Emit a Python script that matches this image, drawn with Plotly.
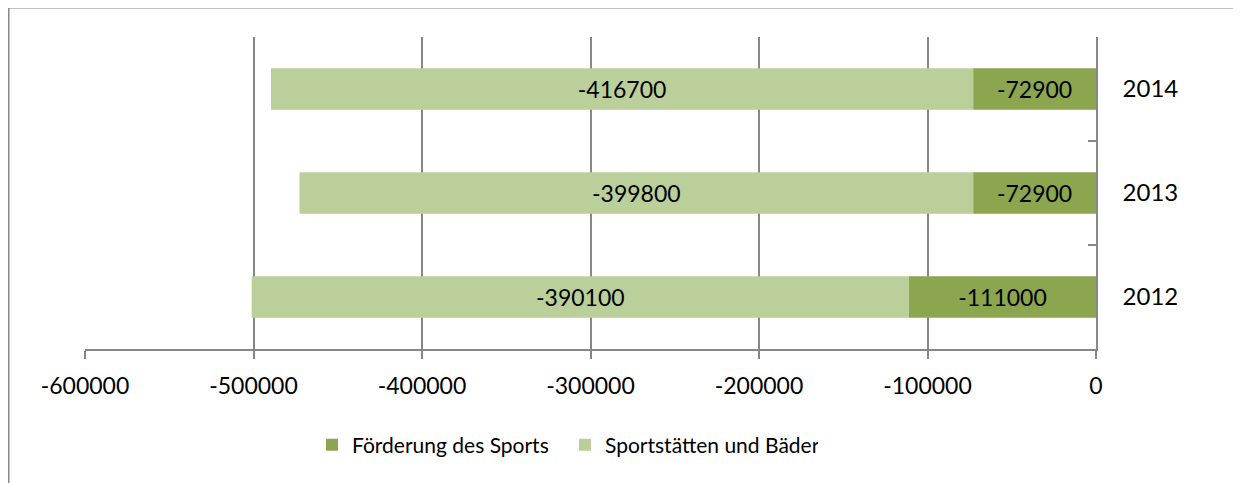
import plotly.graph_objects as go

years = ["2012", "2013", "2014"]
foerderung = [-111000, -72900, -72900]
sportstaetten = [-390100, -399800, -416700]
x_tickvals = [-600000, -500000, -400000, -300000, -200000, -100000, 0]
x_ticktext = ["-600000", "-500000", "-400000", "-300000", "-200000", "-100000", "0"]

FONT = "Lato"
FS = 23
dark = "#8BA64F"
light = "#BBCF9A"
grid = "#878787"

fig = go.Figure()
fig.add_trace(go.Bar(
    y=years, x=foerderung, orientation="h", name="Förderung des Sports",
    marker=dict(color=dark, line=dict(width=0)),
    text=[str(v) for v in foerderung], textposition="inside",
    insidetextanchor="middle", textangle=0, constraintext="none",
    textfont=dict(color="black", size=FS, family=FONT),
))
fig.add_trace(go.Bar(
    y=years, x=sportstaetten, orientation="h", name="Sportstätten und Bäder",
    marker=dict(color=light, line=dict(width=0)),
    text=[str(v) for v in sportstaetten], textposition="inside",
    insidetextanchor="middle", textangle=0, constraintext="none",
    textfont=dict(color="black", size=FS, family=FONT),
))

# page renders with an 8px offset; work in window coordinates
OFF = 8
W, H = 1241, 483
L, R, T, B = 85 - OFF, 145 + OFF, 37 - OFF, 134 + OFF
pw, ph = W - L - R, H - T - B

def px(x):
    return (x - OFF - L) / pw

def py(y):
    return (H - B - (y - OFF)) / ph

fig.update_layout(
    width=W, height=H,
    margin=dict(l=L, r=R, t=T, b=B, pad=0),
    barmode="relative", bargap=0.6,
    paper_bgcolor="white", plot_bgcolor="white",
    font=dict(family=FONT, size=FS, color="black"),
    showlegend=True,
    legend=dict(orientation="h", x=px(312), xanchor="left", y=py(445), yanchor="middle",
                font=dict(size=21, family=FONT, color="black"), traceorder="normal",
                itemwidth=30, entrywidth=208, entrywidthmode="pixels"),
    xaxis=dict(range=[-600000, 0], tickvals=x_tickvals, ticktext=x_ticktext,
               showgrid=True, gridcolor=grid, gridwidth=1.5, zeroline=False,
               showline=True, linecolor=grid, linewidth=1.5,
               ticks="outside", ticklen=8, tickcolor=grid, tickwidth=1.5,
               ticklabelstandoff=8, tickfont=dict(size=FS, family=FONT)),
    yaxis=dict(side="right", categoryorder="array", categoryarray=years,
               range=[-0.5, 2.5], showgrid=False, zeroline=False,
               showline=True, linecolor=grid, linewidth=1.5,
               ticks="inside", tickson="boundaries", ticklen=8, tickcolor=grid, tickwidth=1.5,
               ticklabelstandoff=20, tickfont=dict(size=24, family=FONT)),
    shapes=[
        dict(type="line", xref="paper", yref="paper", x0=px(8.5), x1=px(1260), y0=py(7.5), y1=py(7.5),
             line=dict(color="#888888", width=2)),
        dict(type="line", xref="paper", yref="paper", x0=px(8.5), x1=px(8.5), y0=py(7.5), y1=py(500),
             line=dict(color="#888888", width=2)),
    ],
)

fig.write_html("out.html")
